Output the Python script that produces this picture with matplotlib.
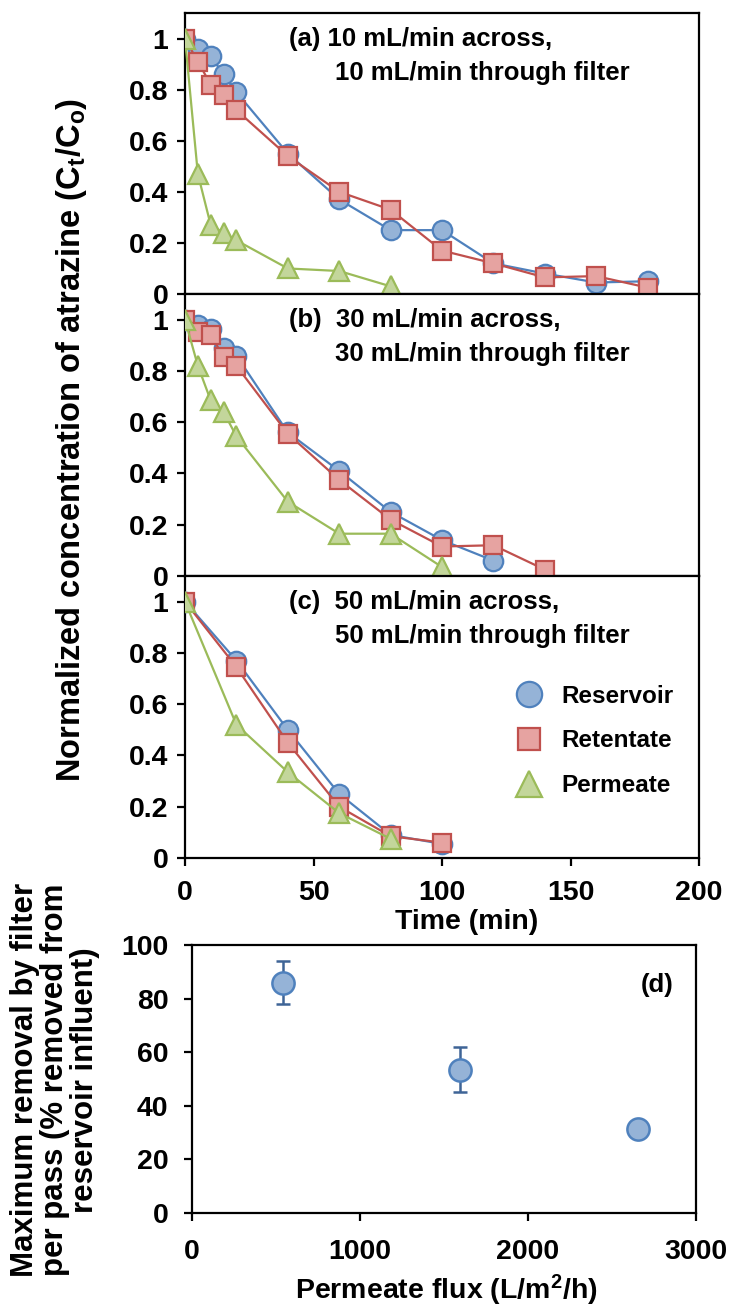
import numpy as np
import matplotlib
matplotlib.use('Agg')
import matplotlib.pyplot as plt
from matplotlib.ticker import FuncFormatter

plt.rcParams['font.family'] = ['Liberation Sans', 'DejaVu Sans']
plt.rcParams['font.weight'] = 'bold'
plt.rcParams['mathtext.fontset'] = 'custom'
plt.rcParams['mathtext.rm'] = 'Liberation Sans:bold'
plt.rcParams['mathtext.bf'] = 'Liberation Sans:bold'
plt.rcParams['mathtext.it'] = 'Liberation Sans:bold'

# ---- data: panels (a)-(c), normalized concentration Ct/Co ----
t_a = [0, 5, 10, 15, 20, 40, 60, 80, 100, 120, 140, 160, 180]
res_a = [1.0, 0.96, 0.93, 0.86, 0.79, 0.55, 0.37, 0.25, 0.25, 0.12, 0.08, 0.045, 0.05]
ret_a = [1.0, 0.91, 0.82, 0.78, 0.72, 0.54, 0.40, 0.33, 0.17, 0.12, 0.065, 0.07, 0.025]
t_perm_a = [0, 5, 10, 15, 20, 40, 60, 80]
perm_a = [1.0, 0.47, 0.27, 0.24, 0.21, 0.10, 0.09, 0.03]

t_res_b = [0, 5, 10, 15, 20, 40, 60, 80, 100, 120]
res_b = [1.0, 0.98, 0.965, 0.89, 0.86, 0.56, 0.41, 0.25, 0.14, 0.06]
t_ret_b = [0, 5, 10, 15, 20, 40, 60, 80, 100, 120, 140]
ret_b = [1.0, 0.95, 0.94, 0.855, 0.82, 0.555, 0.375, 0.22, 0.115, 0.12, 0.025]
t_perm_b = [0, 5, 10, 15, 20, 40, 60, 80, 100]
perm_b = [1.0, 0.82, 0.685, 0.64, 0.545, 0.29, 0.165, 0.165, 0.035]

t_c = [0, 20, 40, 60, 80, 100]
res_c = [1.0, 0.77, 0.50, 0.25, 0.09, 0.055]
ret_c = [1.0, 0.745, 0.45, 0.20, 0.085, 0.06]
t_perm_c = [0, 20, 40, 60, 80]
perm_c = [1.0, 0.52, 0.335, 0.175, 0.075]

titles = [('(a) 10 mL/min across,', '10 mL/min through filter'),
          ('(b)  30 mL/min across,', '30 mL/min through filter'),
          ('(c)  50 mL/min across,', '50 mL/min through filter')]

# ---- data: panel (d) ----
flux = [540, 1595, 2655]
removal = [86, 53.5, 31.5]
removal_err = [8, 8.5, 1.5]

BLUE_E, BLUE_F = '#4F81BD', '#95B3D7'
RED_E, RED_F = '#C0504D', '#E6A3A1'
GRN_E, GRN_F = '#9BBB59', '#C3D69B'

W, H = 732, 1306
fig = plt.figure(figsize=(W / 100, H / 100), dpi=100)

def px_axes(l, t, r, b):
    return fig.add_axes([l / W, 1 - b / H, (r - l) / W, (b - t) / H])

def style_axes(ax, ypad=6, xpad=10):
    for s in ax.spines.values():
        s.set_linewidth(1.6)
        s.set_color('black')
    ax.tick_params(axis='both', direction='out', length=6, width=1.6,
                   labelsize=20.5, colors='black')
    ax.tick_params(axis='y', pad=ypad)
    ax.tick_params(axis='x', pad=xpad)
    for lab in ax.get_xticklabels() + ax.get_yticklabels():
        lab.set_fontweight('bold')

fmt = FuncFormatter(lambda v, p: f'{v:g}')

panel_px = [(13, 294), (294, 576), (576, 858)]
series = [
    ((t_a, res_a), (t_a, ret_a), (t_perm_a, perm_a)),
    ((t_res_b, res_b), (t_ret_b, ret_b), (t_perm_b, perm_b)),
    ((t_c, res_c), (t_c, ret_c), (t_perm_c, perm_c)),
]

axes = []
for i, ((top, bot), (res, ret, perm)) in enumerate(zip(panel_px, series)):
    ax = px_axes(185, top, 699, bot)
    ax.plot(res[0], res[1], '-o', color=BLUE_E, mfc=BLUE_F, mec=BLUE_E,
            ms=14, mew=1.6, lw=1.6, label='Reservoir', zorder=3)
    ax.plot(ret[0], ret[1], '-s', color=RED_E, mfc=RED_F, mec=RED_E,
            ms=12.5, mew=1.6, lw=1.6, label='Retentate', zorder=4)
    ax.plot(perm[0], perm[1], '-^', color=GRN_E, mfc=GRN_F, mec=GRN_E,
            ms=14, mew=1.6, lw=1.6, label='Permeate', zorder=5)
    ax.set_xlim(0, 200)
    ax.set_ylim(0, 1.1)
    ax.set_yticks(np.arange(0, 1.01, 0.2))
    ax.yaxis.set_major_formatter(fmt)
    ax.set_xticks([0, 50, 100, 150, 200])
    style_axes(ax)
    if i < 2:
        ax.tick_params(axis='x', length=0, labelbottom=False)
    tr = ax.get_yaxis_transform()
    l1, l2 = titles[i]
    ax.text(0.203, 1.0, l1, transform=tr, fontsize=18.5, fontweight='bold',
            va='center', ha='left')
    ax.text(0.292, 0.865, l2, transform=tr, fontsize=18.5, fontweight='bold',
            va='center', ha='left')
    axes.append(ax)

ax_c = axes[2]
ax_c.text(0.547, -0.227, 'Time (min)', transform=ax_c.transAxes,
          fontsize=20.5, fontweight='bold', ha='center', va='center')
ax_c.legend(loc='center left', bbox_to_anchor=(0.67, 0.415), frameon=False,
            handlelength=0, handletextpad=1.3, borderpad=0, borderaxespad=0,
            labelspacing=0.9, markerscale=1.3, prop={'size': 17.5, 'weight': 'bold'})

fig.text(72 / W, 1 - 440 / H, 'Normalized concentration of atrazine (C$_t$/C$_o$)',
         rotation=90, ha='center', va='center', fontsize=23.5, fontweight='bold')

# ---- panel (d) ----
ax_d = px_axes(192, 945, 696, 1213)
ax_d.errorbar(flux, removal, yerr=removal_err, fmt='o', color=BLUE_E,
              mfc=BLUE_F, mec=BLUE_E, ms=16, mew=1.8, ecolor='#3E6496',
              elinewidth=1.8, capsize=5, capthick=1.8, zorder=3)
ax_d.set_xlim(0, 3000)
ax_d.set_ylim(0, 100)
ax_d.set_xticks([0, 1000, 2000, 3000])
ax_d.set_yticks(np.arange(0, 101, 20))
style_axes(ax_d, ypad=11, xpad=13)
ax_d.text(0.504, -0.287, 'Permeate flux (L/m$^2$/h)', transform=ax_d.transAxes,
          fontsize=20.5, fontweight='bold', ha='center', va='center')
ax_d.text(2770, 85, '(d)', fontsize=18.5, fontweight='bold', ha='center', va='center')

fig.text(55 / W, 1 - 1080 / H,
         'Maximum removal by filter\nper pass (% removed from\nreservoir influent)',
         rotation=90, ha='center', va='center', multialignment='center',
         fontsize=22.5, fontweight='bold', linespacing=1.0)

fig.savefig('out.png', dpi=100)
